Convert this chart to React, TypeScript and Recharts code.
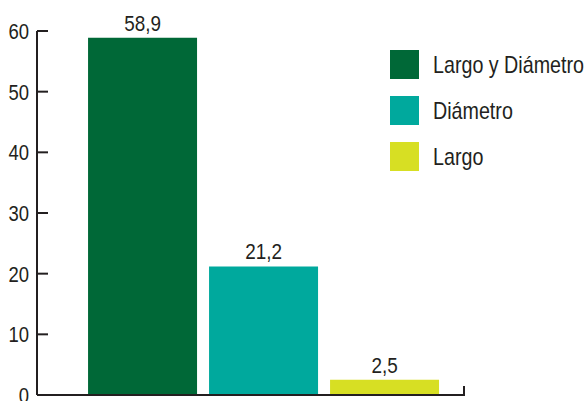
import React from 'react';
import { BarChart, Bar, XAxis, YAxis, Cell, LabelList, usePlotArea } from 'recharts';

const categories = ['Largo y Diámetro', 'Diámetro', 'Largo'];
const values = [58.9, 21.2, 2.5];
const colors = ['#006837', '#00a99d', '#d7df23'];
const yTicks = [0, 10, 20, 30, 40, 50, 60];

const data = categories.map((name, i) => ({ name, value: values[i] }));

const FONT = "'Liberation Sans', Arial, sans-serif";
const INK = '#231f20';

// no condensed font installed, so squeeze text horizontally
function NarrowText({ x, y, anchor, size, scale, children }: any) {
  return (
    <text
      transform={`translate(${x} ${y}) scale(${scale} 1)`}
      textAnchor={anchor}
      fontSize={size}
      fill={INK}
      fontFamily={FONT}
    >
      {children}
    </text>
  );
}

function YTick({ x, y, payload }: any) {
  return (
    <g>
      <line x1={x} y1={y} x2={x + 11} y2={y} stroke={INK} strokeWidth={2} />
      <NarrowText x={x - 8} y={y + 8} anchor="end" size={22} scale={0.84}>
        {payload.value}
      </NarrowText>
    </g>
  );
}

function BarValue({ x, y, width, value }: any) {
  return (
    <NarrowText x={Number(x) + Number(width) / 2} y={Number(y) - 7} anchor="middle" size={22} scale={0.86}>
      {String(value).replace('.', ',')}
    </NarrowText>
  );
}

function AxisEndTick() {
  const area = usePlotArea ? usePlotArea() : undefined;
  if (!area) return null;
  const xEnd = area.x + area.width;
  const yBase = area.y + area.height;
  return <line x1={xEnd} y1={yBase + 1} x2={xEnd} y2={yBase - 9} stroke={INK} strokeWidth={2} />;
}

export default function App() {
  return (
    <div style={{ position: 'absolute', left: 0, top: 0, width: 587, height: 401, background: '#fff' }}>
      <BarChart
        width={587}
        height={401}
        data={data}
        margin={{ top: 31, right: 123, bottom: 5, left: 0 }}
        barCategoryGap="5%"
      >
        <XAxis
          dataKey="name"
          tick={false}
          tickLine={false}
          height={1}
          axisLine={{ stroke: INK, strokeWidth: 2 }}
          padding={{ left: 45, right: 19 }}
        />
        <YAxis
          domain={[0, 60]}
          ticks={yTicks}
          width={37}
          tickSize={0}
          tickMargin={0}
          tickLine={false}
          axisLine={{ stroke: INK, strokeWidth: 2 }}
          tick={<YTick />}
          interval={0}
        />
        <Bar dataKey="value" isAnimationActive={false}>
          {data.map((d, i) => (
            <Cell key={d.name} fill={colors[i]} />
          ))}
          <LabelList dataKey="value" content={<BarValue />} />
        </Bar>
        <AxisEndTick />
      </BarChart>
      <div style={{ position: 'absolute', left: 390, top: 50, fontFamily: FONT }}>
        {categories.map((c, i) => (
          <div key={c} style={{ display: 'flex', alignItems: 'center', height: 29, marginBottom: 17 }}>
            <div style={{ width: 29, height: 29, background: colors[i], flexShrink: 0 }} />
            <span
              style={{
                marginLeft: 14,
                fontSize: 24,
                color: INK,
                whiteSpace: 'nowrap',
                display: 'inline-block',
                transform: 'scaleX(0.82)',
                transformOrigin: 'left center',
              }}
            >
              {c}
            </span>
          </div>
        ))}
      </div>
    </div>
  );
}
